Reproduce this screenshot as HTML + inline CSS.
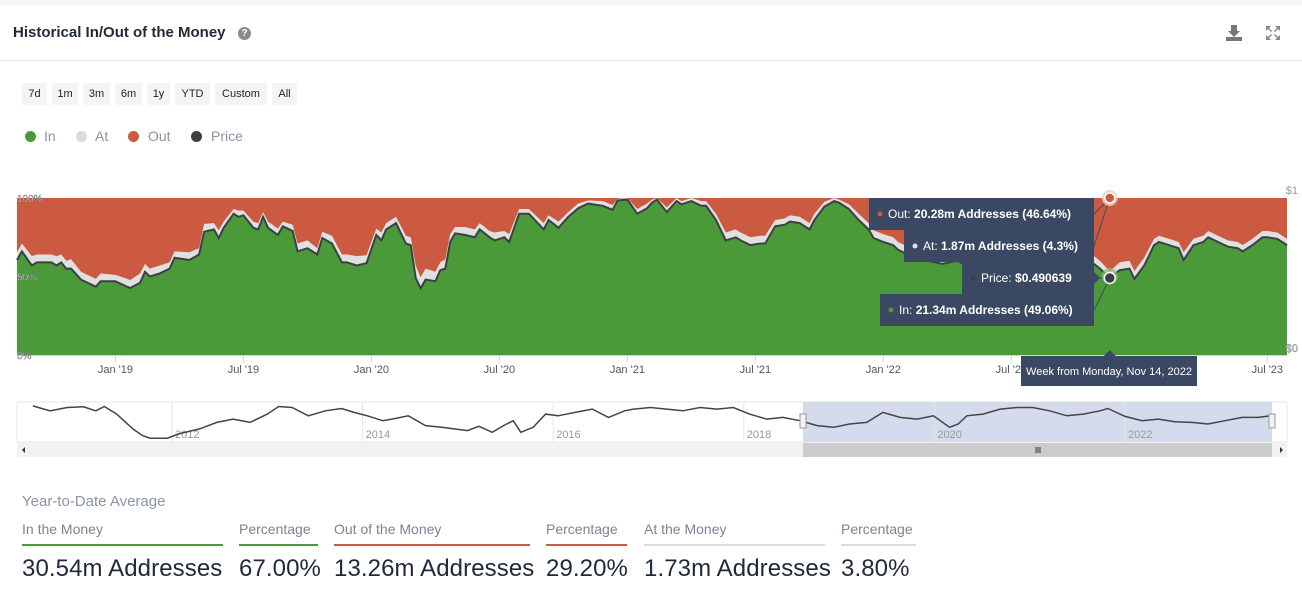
<!DOCTYPE html>
<html><head><meta charset="utf-8">
<style>
*{box-sizing:border-box;margin:0;padding:0}
body{width:1302px;height:616px;background:#f4f5f8;font-family:"Liberation Sans",sans-serif;position:relative;overflow:hidden}
#card{position:absolute;left:0;top:5px;width:1302px;height:611px;background:#fff}
.abs{position:absolute}
.title{left:13px;top:24px;font-size:15px;font-weight:bold;color:#1f2937}
.btn{position:absolute;top:83px;height:22px;background:#f3f4f6;border-radius:2px;font-size:11px;color:#222;text-align:center;line-height:22px}
.leg{position:absolute;top:128px;font-size:14px;color:#8a94a6}
.dot{position:absolute;top:131px;width:11px;height:11px;border-radius:50%}
.slab{position:absolute;top:521px;font-size:14px;color:#7b8494}
.sline{position:absolute;top:544px;height:2px}
.sval{position:absolute;top:555px;font-size:24px;color:#1f2937;font-weight:500;letter-spacing:0.1px}
</style></head><body>
<div id="card"></div>
<div class="abs title">Historical In/Out of the Money</div>
<div class="abs" style="left:238px;top:27px;width:13px;height:13px;border-radius:50%;background:#8a8a8a;color:#fff;font-size:10px;font-weight:bold;text-align:center;line-height:13px">?</div>
<svg class="abs" style="left:1226px;top:24px" width="16" height="18"><path d="M5 1h6v6h3l-6 6-6-6h3z" fill="#777"/><rect x="0" y="13" width="16" height="4" fill="#777"/></svg>
<svg class="abs" style="left:1266px;top:26px" width="14" height="14"><path d="M0 0h5l-2 2 3 3-1 1-3-3-2 2zM14 0v5l-2-2-3 3-1-1 3-3-2-2zM0 14v-5l2 2 3-3 1 1-3 3 2 2zM14 14h-5l2-2-3-3 1-1 3 3 2-2z" fill="#888"/></svg>
<div class="abs" style="left:0;top:60px;width:1302px;height:1px;background:#e8e8ec"></div>
<div class="btn" style="left:22px;width:25px">7d</div>
<div class="btn" style="left:52px;width:26px">1m</div>
<div class="btn" style="left:83px;width:27px">3m</div>
<div class="btn" style="left:115px;width:27px">6m</div>
<div class="btn" style="left:147px;width:23px">1y</div>
<div class="btn" style="left:175px;width:35px">YTD</div>
<div class="btn" style="left:215px;width:52px">Custom</div>
<div class="btn" style="left:272px;width:25px">All</div>
<div class="dot" style="left:25px;background:#4a9a3a"></div>
<div class="leg" style="left:44px">In</div>
<div class="dot" style="left:76px;background:#dcdcdc"></div>
<div class="leg" style="left:95px">At</div>
<div class="dot" style="left:128px;background:#cc5a41"></div>
<div class="leg" style="left:148px">Out</div>
<div class="dot" style="left:191px;background:#3c3f44"></div>
<div class="leg" style="left:211px">Price</div>

<svg id="chart" class="abs" style="left:0;top:0" width="1302" height="480"></svg>

<div class="abs" style="left:22px;top:493px;font-size:15px;color:#8a94a6">Year-to-Date Average</div>
<div class="slab" style="left:22px">In the Money</div>
<div class="sline" style="left:22px;width:201px;background:#4a9a3a"></div>
<div class="sval" style="left:22px">30.54m Addresses</div>
<div class="slab" style="left:239px">Percentage</div>
<div class="sline" style="left:239px;width:79px;background:#4a9a3a"></div>
<div class="sval" style="left:239px">67.00%</div>
<div class="slab" style="left:334px">Out of the Money</div>
<div class="sline" style="left:334px;width:196px;background:#cc5a41"></div>
<div class="sval" style="left:334px">13.26m Addresses</div>
<div class="slab" style="left:546px">Percentage</div>
<div class="sline" style="left:546px;width:81px;background:#cc5a41"></div>
<div class="sval" style="left:546px">29.20%</div>
<div class="slab" style="left:644px">At the Money</div>
<div class="sline" style="left:644px;width:181px;background:#dcdcdc"></div>
<div class="sval" style="left:644px">1.73m Addresses</div>
<div class="slab" style="left:841px">Percentage</div>
<div class="sline" style="left:841px;width:75px;background:#dcdcdc"></div>
<div class="sval" style="left:841px">3.80%</div>

<script>
const weeks=[0,1,3,4,7,8,9,10,11,13,
16,17,20,22,23,25,26,27,29,31,
32,35,37,38,40,41,42,44,45,46,
48,49,50,51,53,54,56,57,59,61,
62,64,66,67,69,71,73,74,75,77,
79,80,81,82,83,85,86,87,88,89,
91,93,94,96,97,99,100,102,103,104,
107,108,110,112,114,116,119,121,122,124,
126,128,129,130,132,134,135,137,139,140,
142,144,146,147,149,151,152,154,156,157,
159,161,162,164,166,167,169,171,173,174,
176,178,179,181,183,185,188,191,194,197,
200,203,206,209,212,215,218,220,222,224,
226,227,229,231,232,234,236,237,239,241,
242,244,246,248,249,251,253,254,256,258];
const inPct=[60.5,66,57,59,59,57,59,55,55,48,
43.5,47,47,44,42.7,46,53,50,52,55,
62,60.5,64,78.5,80,74.5,81,90,88,89,
81,80,88,81,76.5,82,79,66,68,64,
74.5,71,59,59,57,58.5,76.5,73,80,84,
71,70,49,42.5,48,47,54,55,72,77.5,
76.5,75,80,75,73,75,72,90,90,90,
80,86,81,88,93.5,96.5,95,92.5,98.5,99,
90,93.5,97,99,91,98,96,98,95,95,
86,73,75,73,70,71,71,82,83,85,
84,80,86,94.5,98,97,93,86,80,74.5,
72,70,67,64,63,60,58,60,56,55,
57,54,55,56,55,57,60,55,49.06,54,
55,48.5,57,70,72,70,68,60.5,70,72,
75,72,69,68,66,70,75,75,74,70];
const atPct=[5,5,6,5,5,6,5,5,6,5,
5,5,4,5,5,6,5,5,5,4,
4,5,4,5,4,5,4,3,4,3,
4,4,3,4,4,3,4,5,5,4,
4,5,5,5,6,5,4,5,4,4,
5,5,8,7,7,6,5,6,5,4,
5,5,4,4,5,4,5,3,3,3,
4,3,4,3,3,2,3,3,1,1,
3,3,2,1,3,2,2,2,3,3,
4,5,5,5,5,5,5,4,4,4,
4,4,4,3,2,2,3,4,4,5,
5,5,5,5,5,5,5,5,5,5,
5,5,5,5,5,5,5,5,4.3,5,
5,5,5,4,4,4,4,5,4,4,
4,4,4,4,4,4,4,4,4,4];
const xTickLabels=["Jan '19","Jul '19","Jan '20","Jul '20","Jan '21","Jul '21","Jan '22","Jul '22","Jul '23"];
const xTickWeeks=[20,46,72,98,124,150,176,202,254];
const yTickLabels=["100%","50%","0%"];
const yTickValues=[100,50,0];
const navYears=[2010.54,2010.72,2010.90,2011.07,2011.20,2011.29,2011.42,2011.59,2011.69,2011.77,2011.95,2012.07,2012.29,2012.47,2012.64,2012.82,2013.00,2013.12,2013.26,2013.43,2013.61,2013.78,2013.91,2014.05,2014.21,2014.31,2014.48,2014.66,2014.83,2015.10,2015.22,2015.36,2015.48,2015.58,2015.66,2015.79,2015.92,2016.05,2016.23,2016.41,2016.58,2016.75,2016.84,2017.02,2017.19,2017.36,2017.54,2017.72,2017.89,2018.06,2018.24,2018.41,2018.59,2018.77,2018.94,2019.11,2019.29,2019.46,2019.64,2019.82,2019.99,2020.16,2020.25,2020.34,2020.51,2020.69,2020.87,2021.03,2021.21,2021.39,2021.56,2021.74,2021.82,2022.00,2022.18,2022.35,2022.52,2022.70,2022.87,2023.05,2023.23,2023.40,2023.53];
const navVal=[1.05,.9,1.0,1.02,.9,1.03,.8,.35,.15,.07,.07,.2,.35,.55,.65,.55,.8,1.03,1.0,.75,.9,.97,.85,.75,.6,.65,.75,.45,.4,.3,.43,.25,.45,.6,.25,.4,.8,.75,.85,.95,.7,.9,.95,1.0,.95,.9,1.0,.95,1.0,.8,.65,.7,.6,.45,.4,.5,.55,.85,.7,.65,.75,.4,.5,.75,.8,.95,1.0,1.0,.9,.75,.8,.9,.97,.73,.6,.65,.57,.55,.5,.6,.7,.7,.75];
const navTickYears=[2012,2014,2016,2018,2020,2022];
const hoverIndex=128;
const tipOut="20.28m Addresses (46.64%)", tipAt="1.87m Addresses (4.3%)", tipPrice="$0.490639", tipIn="21.34m Addresses (49.06%)";

const NS="http://www.w3.org/2000/svg";
const svg=document.getElementById('chart');
function el(tag,attrs,parent){const e=document.createElementNS(NS,tag);for(const k in attrs)e.setAttribute(k,attrs[k]);(parent||svg).appendChild(e);return e;}
const X0=17,X1=1287,Y0=355,Y1=198;
const xs=w=>X0+w*(X1-X0)/258;
const ys=p=>Y0-p*(Y0-Y1)/100;

let r=el('rect',{x:X0,y:Y1,width:X1-X0,height:Y0-Y1,fill:'#cc5a41'});


function area(vals){let d='M'+xs(weeks[0])+','+Y0;for(let i=0;i<weeks.length;i++)d+='L'+xs(weeks[i]).toFixed(1)+','+ys(vals[i]).toFixed(1);d+='L'+xs(weeks[weeks.length-1])+','+Y0+'Z';return d;}
const topAt=inPct.map((v,i)=>Math.min(100,v+atPct[i]));
let a=el('path',{d:area(topAt),fill:'#e0e0e0'});


let g=el('path',{d:area(inPct),fill:'#4a9a3a'});


let ld='';for(let i=0;i<weeks.length;i++)ld+=(i?'L':'M')+xs(weeks[i]).toFixed(1)+','+ys(inPct[i]).toFixed(1);
let pl=el('path',{d:ld,fill:'none',stroke:'#3c3f44','stroke-width':2});


el('line',{x1:X0,x2:X1,y1:Y0+0.5,y2:Y0+0.5,stroke:'#ccd6eb'});
for(let i=0;i<xTickLabels.length;i++){
  const x=xs(xTickWeeks[i]);
  el('line',{x1:x,x2:x,y1:Y0,y2:Y0+8,stroke:'#ccd6eb'});
  const t=el('text',{x:x,y:373,'text-anchor':'middle','font-size':11,fill:'#555'});t.textContent=xTickLabels[i];
  
  
}
for(let i=0;i<yTickLabels.length;i++){
  const t=el('text',{x:17,y:ys(yTickValues[i])+4,'font-size':10,fill:'#fff',stroke:'#666','stroke-width':0.4});t.textContent=yTickLabels[i];
  
  
}
let t1=el('text',{x:1298,y:194,'text-anchor':'end','font-size':11,fill:'#999'});t1.textContent='$1';


let t0=el('text',{x:1298,y:352,'text-anchor':'end','font-size':11,fill:'#fff',stroke:'#666','stroke-width':0.4});t0.textContent='$0';



const hx=xs(weeks[hoverIndex]), hy=ys(inPct[hoverIndex]);
const boxes=[[869,198,tipOut,'Out: ','#cc5a41',198],[904,230,tipAt,'At: ','#e0e0e0',198],[962,262,tipPrice,'Price: ','#3c3f44',hy],[880,294,tipIn,'In: ','#4a9a3a',hy]];
boxes.forEach((b,i)=>{
  el('line',{x1:1094,y1:b[1]+16,x2:hx,y2:b[5],stroke:'#3b4863','stroke-width':1});
});
const names=['tooltip-out','tooltip-at','tooltip-price','tooltip-in'];
boxes.forEach((b,i)=>{
  const rr=el('rect',{x:b[0],y:b[1],width:1094-b[0],height:32,fill:'#3b4863'});
  
  
  el('circle',{cx:b[0]+11,cy:b[1]+16,r:2.5,fill:b[4]});
  const t=el('text',{x:b[0]+19,y:b[1]+20,'font-size':12,fill:'#fff'});
  const s1=el('tspan',{},t);s1.textContent=b[3];
  const s2=el('tspan',{'font-weight':'bold'},t);s2.textContent=b[2];
});
el('path',{d:'M1094,272 L1100,278 L1094,284Z',fill:'#3b4863'});
el('circle',{cx:hx,cy:Y1,r:8,fill:'#f2c9c0',opacity:0.8});
let mo=el('circle',{cx:hx,cy:Y1,r:5,fill:'#cc5a41',stroke:'#fff','stroke-width':1.5});


el('circle',{cx:hx,cy:hy-2,r:8,fill:'#8fb983',opacity:0.7});
let mp=el('circle',{cx:hx,cy:hy,r:5.5,fill:'#3c3f44',stroke:'#fff','stroke-width':1.5});


el('path',{d:`M${hx-6},356 L${hx},350 L${hx+6},356Z`,fill:'#3b4863'});
let db=el('rect',{x:1021,y:356,width:176,height:30,fill:'#3b4863'});


let dt=el('text',{x:1109,y:375,'text-anchor':'middle','font-size':11,fill:'#fff'});dt.textContent='Week from Monday, Nov 14, 2022';

const NY0=402,NY1=442;
const nx=y=>172+(y-2012)*95.3;
const nyv=v=>440.5-v*33;
el('rect',{x:X0,y:NY0,width:X1-X0,height:NY1-NY0,fill:'#fff',stroke:'#e6e6e6'});
let sel=el('rect',{x:803,y:NY0,width:469,height:NY1-NY0,fill:'#d4dbec'});


navTickYears.forEach(y=>{const x=nx(y);el('line',{x1:x,x2:x,y1:NY0,y2:NY1,stroke:'#e6e6e6'});
  const t=el('text',{x:x+3,y:438,'font-size':11,fill:'#999'});t.textContent=String(y);
  
  });
let nd='';for(let i=0;i<Math.min(navYears.length,navVal.length);i++)nd+=(i?'L':'M')+nx(navYears[i]).toFixed(1)+','+nyv(navVal[i]).toFixed(1);
let nl=el('path',{d:nd,fill:'none',stroke:'#444','stroke-width':1.5});


[803,1272].forEach(x=>{let h=el('rect',{x:x-3,y:414,width:6,height:14,fill:'#f2f2f2',stroke:'#999'});
  
  });
el('rect',{x:X0,y:443,width:X1-X0,height:14,fill:'#f2f2f2'});
let th=el('rect',{x:803,y:443,width:469,height:14,fill:'#cccccc'});


el('path',{d:'M1036,447v6M1038,447v6M1040,447v6',stroke:'#333'});
el('path',{d:'M22,450l3,-3v6z',fill:'#333'});
el('path',{d:'M1283,450l-3,-3v6z',fill:'#333'});
</script>
</body></html>
